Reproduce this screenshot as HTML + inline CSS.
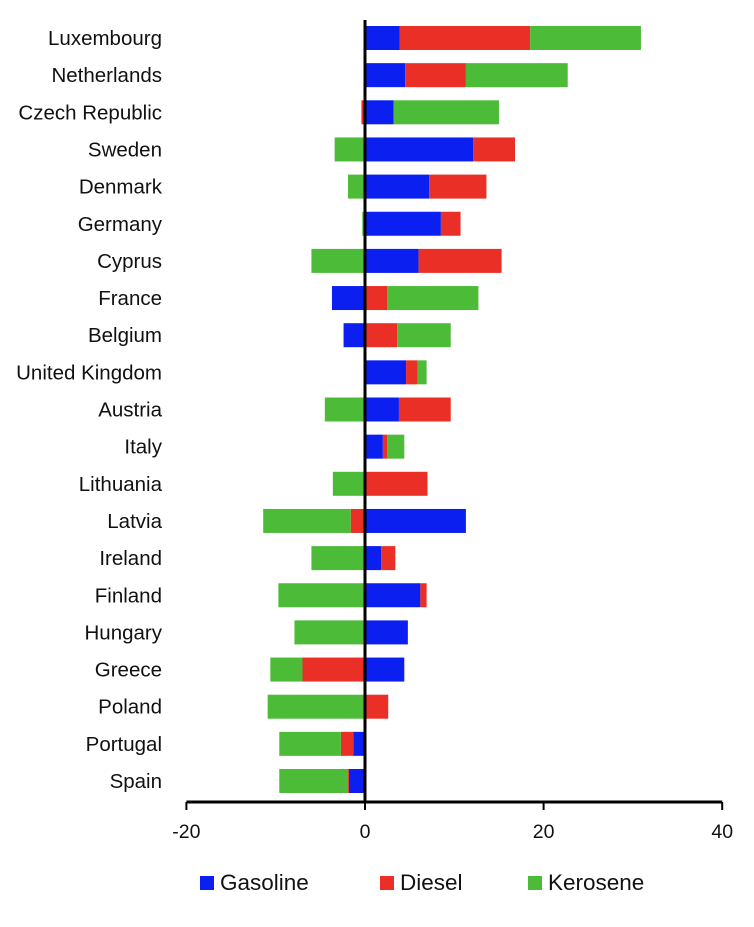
<!DOCTYPE html>
<html><head><meta charset="utf-8"><style>
body{margin:0;background:#fff;width:754px;height:922px;overflow:hidden;font-family:"Liberation Sans",sans-serif;}
</style></head><body>
<svg id="chart" width="754" height="922" xmlns="http://www.w3.org/2000/svg"></svg>
<script>
const countries=["Luxembourg","Netherlands","Czech Republic","Sweden","Denmark","Germany","Cyprus","France","Belgium","United Kingdom","Austria","Italy","Lithuania","Latvia","Ireland","Finland","Hungary","Greece","Poland","Portugal","Spain"];
const gasoline=[3.9,4.5,3.2,12.1,7.2,8.5,6.0,-3.7,-2.4,4.6,3.8,2.0,0,11.3,1.8,6.2,4.8,4.4,0,-1.3,-1.8];
const diesel=[14.6,6.8,-0.4,4.7,6.4,2.2,9.3,2.5,3.6,1.3,5.8,0.5,7.0,-1.6,1.6,0.7,0,-7.0,2.6,-1.4,-0.1];
const kerosene=[12.4,11.4,11.8,-3.4,-1.9,-0.3,-6.0,10.2,6.0,1.0,-4.5,1.9,-3.6,-9.8,-6.0,-9.7,-7.9,-3.6,-10.9,-6.9,-7.7];
const xTicks=[-20,0,20,40];
const seriesNames=["Gasoline","Diesel","Kerosene"];
const colors=["#0b1ff0","#ea2f27","#4cbb38"];
const svg=document.getElementById('chart');
const NS="http://www.w3.org/2000/svg";
const x=v=>365+v*8.93;
const y=i=>38+i*37.15;
const bh=24;
function mk(t,a){const e=document.createElementNS(NS,t);for(const k in a)e.setAttribute(k,a[k]);svg.appendChild(e);return e;}
const data=[gasoline,diesel,kerosene];
countries.forEach((c,i)=>{
  let pos=0,neg=0;
  data.forEach((s,j)=>{
    const v=s[i]; if(!v) return;
    let a,b;
    if(v>0){a=pos;b=pos+v;pos=b;}else{a=neg+v;b=neg;neg=a;}
    const r=mk('rect',{x:x(a),y:y(i)-bh/2,width:x(b)-x(a),height:bh,fill:colors[j]});
    
    
  });
  const t=mk('text',{x:162,y:y(i)+7,'text-anchor':'end','font-size':20.5,fill:'#111'});
  t.textContent=c;
  
  
});
const zl=mk('line',{x1:x(0),x2:x(0),y1:20,y2:802,stroke:'#000','stroke-width':3});


const ax=mk('line',{x1:x(-20),x2:x(40),y1:802,y2:802,stroke:'#000','stroke-width':3});


xTicks.forEach(v=>{
  const tk=mk('line',{x1:x(v),x2:x(v),y1:802,y2:810,stroke:'#000','stroke-width':2});
  
  
  const t=mk('text',{x:x(v),y:838,'text-anchor':'middle','font-size':19.5,fill:'#111'});
  t.textContent=v;
  
  
});
const lx=[200,380,528];
seriesNames.forEach((n,j)=>{
  const r=mk('rect',{x:lx[j],y:876,width:14,height:14,fill:colors[j]});
  
  
  const t=mk('text',{x:lx[j]+20,y:890,'font-size':22.5,fill:'#111'});
  t.textContent=n;
  
  
});
</script>
</body></html>
